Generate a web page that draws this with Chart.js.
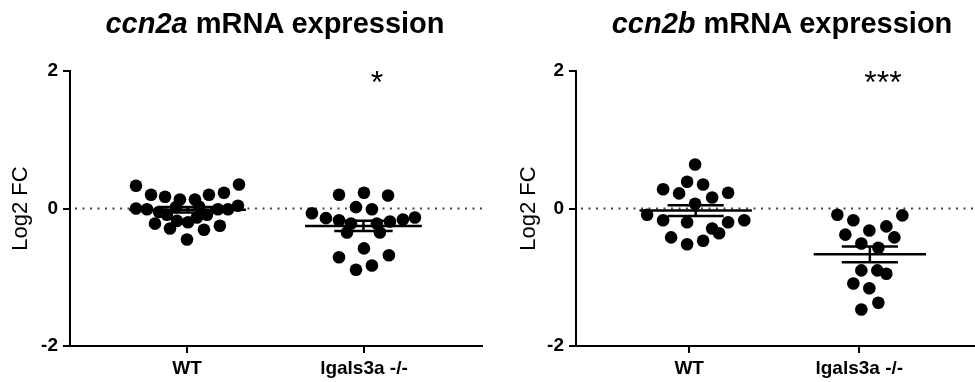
<!DOCTYPE html>
<html><head><meta charset="utf-8">
<script src="https://cdn.jsdelivr.net/npm/chart.js@4.4.1/dist/chart.umd.min.js"></script>
<style>
html,body{margin:0;padding:0;background:#fff;}
#wrap{position:relative;width:975px;height:382px;overflow:hidden;font-family:"Liberation Sans",Arial,sans-serif;color:#000;}
.cv{position:absolute;top:0;height:382px;}
.title{position:absolute;font-weight:bold;font-size:29px;white-space:nowrap;transform:translateX(-50%);line-height:29px;}
.star{position:absolute;font-size:32px;white-space:nowrap;transform:translateX(-50%);line-height:32px;}
</style></head><body>
<div id="wrap">
  <div class="cv" style="left:0;width:487px"><canvas id="c1" width="487" height="382"></canvas></div>
  <div class="cv" style="left:487px;width:488px"><canvas id="c2" width="488" height="382"></canvas></div>
  <div class="title" style="left:275px;top:9px"><i>ccn2a</i> mRNA expression</div>
  <div class="title" style="left:782px;top:9px"><i>ccn2b</i> mRNA expression</div>
  <div class="star" id="s1" style="left:377px;top:66px"></div>
  <div class="star" id="s2" style="left:883px;top:66px"></div>
</div>
<script>
// ---- data ----
const categories = ['WT', 'lgals3a -/-'];
const yTicks = [-2, 0, 2];
const yLabel = 'Log2 FC';
const significance = ['*', '***'];

// ccn2a panel
const ccn2aWT = [0.33,0.20,0.17,0.13,0.13,0.20,0.23,0.35,0.00,-0.01,-0.05,-0.09,-0.18,-0.20,-0.13,-0.09,-0.01,-0.01,0.04,-0.22,-0.29,-0.31,-0.25,-0.45,0.02,0.03];
const ccn2aWTJitter = [-0.288,-0.203,-0.124,-0.040,0.045,0.124,0.209,0.294,-0.288,-0.226,-0.158,-0.113,-0.056,0.006,0.056,0.113,0.175,0.232,0.288,-0.181,-0.096,0.096,0.186,0.0,-0.062,0.068];
const ccn2aKO = [0.20,0.23,0.19,0.02,-0.01,-0.07,-0.14,-0.17,-0.22,-0.35,-0.22,-0.35,-0.19,-0.16,-0.13,-0.58,-0.71,-0.68,-0.89,-0.83];
const ccn2aKOJitter = [-0.141,0.0,0.136,-0.045,0.045,-0.294,-0.215,-0.141,-0.073,-0.096,0.073,0.090,0.147,0.220,0.288,0.0,-0.141,0.141,-0.045,0.045];

// ccn2b panel
const ccn2bWT = [0.64,0.39,0.35,0.28,0.22,0.16,0.23,0.07,-0.09,-0.17,-0.20,-0.20,-0.17,-0.29,-0.36,-0.42,-0.52,-0.47];
const ccn2bWTJitter = [0.035,-0.012,0.082,-0.153,-0.059,0.135,0.229,0.035,-0.247,-0.153,-0.012,0.229,0.324,0.135,0.176,-0.106,-0.012,0.082];
const ccn2bKO = [-0.09,-0.10,-0.17,-0.38,-0.32,-0.26,-0.42,-0.51,-0.57,-0.90,-0.90,-0.95,-1.09,-1.16,-1.37,-1.47];
const ccn2bKOJitter = [-0.129,0.253,-0.035,-0.082,0.059,0.159,0.206,0.012,0.112,0.012,0.106,0.159,-0.035,0.059,0.112,0.012];

document.getElementById('s1').textContent = significance[0];
document.getElementById('s2').textContent = significance[1];

const FONT = '"Liberation Sans", Arial, sans-serif';

function pts(vals, jit, g){ return vals.map((v,i)=>({x:g + jit[i], y:v})); }

const dotPlot = {
  id:'dotPlot',
  beforeDatasetsDraw(chart){
    const {ctx, chartArea:a, scales:{y}} = chart;
    const y0 = y.getPixelForValue(0);
    ctx.save();
    ctx.strokeStyle = '#444'; ctx.lineWidth = 2; ctx.setLineDash([2,5.5]);
    ctx.beginPath(); ctx.moveTo(a.left+5, y0); ctx.lineTo(a.right, y0); ctx.stroke();
    ctx.restore();
  },
  afterDatasetsDraw(chart){
    const {ctx, scales:{x,y}} = chart;
    ctx.save(); ctx.strokeStyle = '#000'; ctx.lineWidth = 2.5; ctx.setLineDash([]);
    chart.data.datasets.forEach(ds=>{
      const ys = ds.data.map(p=>p.y), xs = ds.data.map(p=>p.x);
      const n = ys.length, mean = ys.reduce((s,v)=>s+v,0)/n;
      const sd = Math.sqrt(ys.reduce((s,v)=>s+(v-mean)**2,0)/(n-1));
      const sem = sd/Math.sqrt(n);
      const cx = (Math.min(...xs)+Math.max(...xs))/2;
      const X = v=>x.getPixelForValue(v), Y = v=>y.getPixelForValue(v);
      const seg = (x1,y1,x2,y2)=>{ctx.beginPath();ctx.moveTo(x1,y1);ctx.lineTo(x2,y2);ctx.stroke();};
      seg(X(cx-0.33), Y(mean), X(cx+0.33), Y(mean));
      seg(X(cx-0.165), Y(mean+sem), X(cx+0.165), Y(mean+sem));
      seg(X(cx-0.165), Y(mean-sem), X(cx+0.165), Y(mean-sem));
      seg(X(cx), Y(mean+sem), X(cx), Y(mean-sem));
    });
    ctx.restore();
  }
};

function makeChart(id, wt, wtJ, ko, koJ, opts){
  return new Chart(document.getElementById(id), {
    type:'scatter',
    data:{datasets:[
      {data:pts(wt,wtJ,0), pointRadius:6.3, pointBackgroundColor:'#000', pointBorderWidth:0, pointHoverRadius:6.3},
      {data:pts(ko,koJ,1), pointRadius:6.3, pointBackgroundColor:'#000', pointBorderWidth:0, pointHoverRadius:6.3}
    ]},
    options:{
      responsive:false, animation:false, events:[],
      layout:{autoPadding:false, padding:{top:71, right:opts.padRight, left:0, bottom:0}},
      plugins:{legend:{display:false}, tooltip:{enabled:false}},
      scales:{
        x:{type:'linear', min:opts.xmin, max:opts.xmax,
          afterBuildTicks(s){ s.ticks = categories.map((c,i)=>({value:i})); },
          afterFit(s){ s.height = 36; },
          ticks:{autoSkip:false, maxRotation:0, padding:4, color:'#000',
            font:{family:FONT, size:19, weight:'bold'},
            callback:(v,i)=>categories[i]},
          grid:{drawOnChartArea:false, drawTicks:true, tickLength:7, color:'#000', lineWidth:2},
          border:{display:true, color:'#000', width:2}
        },
        y:{type:'linear', min:-2, max:2,
          afterBuildTicks(s){ s.ticks = yTicks.map(v=>({value:v})); },
          afterFit(s){ s.width = opts.yWidth; },
          ticks:{padding:5, color:'#000', font:{family:FONT, size:19, weight:'bold'}},
          grid:{drawOnChartArea:false, drawTicks:true, tickLength:7, color:'#000', lineWidth:2},
          border:{display:true, color:'#000', width:2},
          title:{display:true, text:yLabel, color:'#000', font:{family:FONT, size:22, weight:'normal'}, padding:{top:opts.titlePad, bottom:0}}
        }
      }
    },
    plugins:[dotPlot]
  });
}

makeChart('c1', ccn2aWT, ccn2aWTJitter, ccn2aKO, ccn2aKOJitter, {xmin:-0.661, xmax:1.667, padRight:5, yWidth:70, titlePad:8});
makeChart('c2', ccn2bWT, ccn2bWTJitter, ccn2bKO, ccn2bKOJitter, {xmin:-0.665, xmax:1.68, padRight:0, yWidth:89, titlePad:29});
</script>
</body></html>
